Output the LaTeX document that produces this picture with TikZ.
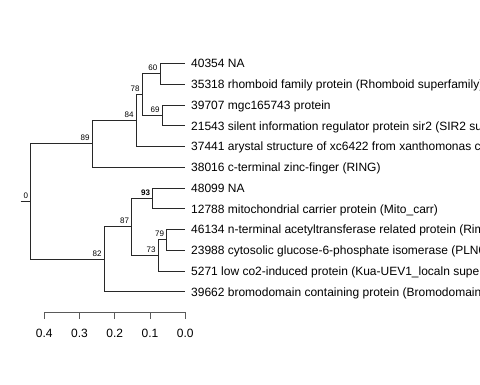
\documentclass[tikz,border=0pt]{standalone}
\usepackage{fontspec}
\setmainfont{Liberation Sans}
\usepackage{xcolor}
\definecolor{treec}{RGB}{40,40,40}
\definecolor{axisc}{RGB}{90,90,90}
\tikzset{
  branch/.style={draw=treec,line width=0.9pt},
  leaflab/.style={anchor=base west,inner sep=0pt,font=\fontsize{12}{14}\selectfont,xshift=6pt,yshift=-4.3pt},
  bootlab/.style={anchor=base east,inner sep=0pt,font=\fontsize{8}{9}\selectfont,xshift=-2.5pt,yshift=3pt},
  axlab/.style={anchor=base,inner sep=0pt,text=black,font=\fontsize{12}{14}\selectfont}
}

\begin{document}
\begin{tikzpicture}[x=1pt,y=-1pt]
\useasboundingbox (0,0) rectangle (480,384);
\clip (0,0) rectangle (480,384);

% leaves: {row, id, label}
\foreach \i/\id/\lab in {
   0/40354/{40354 NA},
   1/35318/{35318 rhomboid family protein (Rhomboid superfamily)},
   2/39707/{39707 mgc165743 protein},
   3/21543/{21543 silent information regulator protein sir2 (SIR2 superfamily)},
   4/37441/{37441 arystal structure of xc6422 from xanthomonas campestris},
   5/38016/{38016 c-terminal zinc-finger (RING)},
   6/48099/{48099 NA},
   7/12788/{12788 mitochondrial carrier protein (Mito\_carr)},
   8/46134/{46134 n-terminal acetyltransferase related protein (Rimi)},
   9/23988/{23988 cytosolic glucose-6-phosphate isomerase (PLN02649)},
  10/5271/{5271 low co2-induced protein (Kua-UEV1\_localn superfamily)},
  11/39662/{39662 bromodomain containing protein (Bromodomain)}}{
  \coordinate (t\id) at (185,63.5+20.75*\i);
  \node[leaflab] (l\id) at (t\id) {\lab};
}

% internal nodes: {name, x, y}
\foreach \n/\x/\y in {
  0/30.7/201.6, 89/92.3/143.9, 84/136.3/120.5, 78/142.3/94.6,
  60/160/73.8, 69/162.3/115.4, 82/104.3/259.3, 87/131.7/226.9,
  93/152.7/198.3, 73/158.3/255.4, 79/166.7/239.9}{
  \coordinate (n\n) at (\x,\y);
}
\coordinate (stem) at (20.7,201.6);

% branches
\draw[branch] (stem) -- (n0);
\foreach \a/\b in {
  n0/n89, n0/n82, n89/n84, n89/t38016, n84/n78, n84/t37441,
  n78/n60, n78/n69, n60/t40354, n60/t35318, n69/t39707, n69/t21543,
  n82/n87, n82/t39662, n87/n93, n87/n73, n93/t48099, n93/t12788,
  n73/n79, n73/t5271, n79/t46134, n79/t23988}{
  \draw[branch] (\a) |- (\b);
}

% bootstrap values
\foreach \n in {0,89,84,78,60,69,82,87,73,79}{
  \node[bootlab] (b\n) at (n\n) {\n};
}
\node[bootlab,font=\fontsize{8}{9}\selectfont\bfseries] (b93) at (n93) {93};

% scale axis
\coordinate (axl) at (44.3,312);
\coordinate (axr) at (185.3,312);
\draw[axisc,line width=0.9pt] (axl) -- (axr);
\foreach \v/\t in {0.4/0.4,0.3/0.3,0.2/0.2,0.1/0.1,0/0.0}{
  \draw[axisc,line width=0.9pt] (185.3-352.5*\v,312) -- (185.3-352.5*\v,318.5)
    node[axlab,below=0pt,anchor=base,yshift=-19pt] {\t};
}

\end{tikzpicture}
\end{document}
